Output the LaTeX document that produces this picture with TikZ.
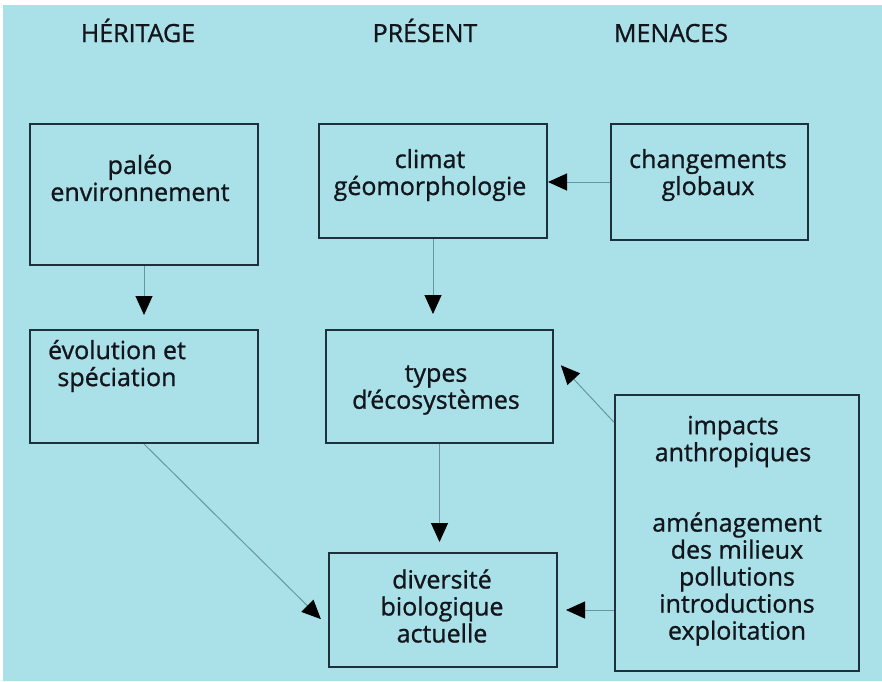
\documentclass[tikz,border=0pt]{standalone}
\usepackage{fontspec}
\setmainfont{Open Sans}[FakeBold=1]
\usetikzlibrary{arrows.meta}
\definecolor{fond}{RGB}{170,225,232}
\definecolor{trait}{RGB}{28,48,62}
\definecolor{fleche}{RGB}{105,150,158}
\definecolor{encre}{RGB}{18,22,28}
\begin{document}
\begin{tikzpicture}[x=0.5pt,y=-0.5pt,
    boite/.style={draw=trait,line width=1pt,rectangle,inner sep=0pt},
    texte/.style={align=center,text=encre,inner sep=0pt,font=\fontsize{12.5}{13.5}\selectfont},
    titre/.style={texte,anchor=base},
    fl/.style={draw=fleche,line width=0.5pt,-{Triangle[length=9.5pt,width=8.5pt,color=black]}}]
        \useasboundingbox (0,0) rectangle (882,681);
        \fill[fond] (3,5) rectangle (882,681);
        \node[titre] at (138,42) (heritage) {HÉRITAGE};
        \node[titre] at (425,42) (present) {PRÉSENT};
        \node[titre] at (671,42) (menaces) {MENACES};
        \node[boite,minimum width=114pt,minimum height=70.5pt] at (144,194.5) (paleo) {};
        \node[boite,minimum width=114pt,minimum height=57pt] at (433,181) (climat) {};
        \node[boite,minimum width=98.5pt,minimum height=58pt] at (709.5,182) (chang) {};
        \node[boite,minimum width=114pt,minimum height=56.5pt] at (144,386.5) (evol) {};
        \node[boite,minimum width=113.5pt,minimum height=56.5pt] at (439.5,386.5) (types) {};
        \node[boite,minimum width=114pt,minimum height=57pt] at (443,610) (divers) {};
        \node[boite,minimum width=122pt,minimum height=138pt] at (737,533) (impacts) {};
        \node[texte] at (140,178) (paleo-t) {paléo\\environnement};
        \node[texte] at (430,175) (climat-t) {climat\\géomorphologie};
        \node[texte] at (708,175) (chang-t) {changements\\globaux};
        \node[texte] at (117,366) (evol-t) {évolution et\\spéciation};
        \node[texte] at (436,390) (types-t) {types\\d’écosystèmes};
        \node[texte] at (442,606) (divers-t) {diversité\\biologique\\actuelle};
        \node[texte] at (733,441.5) (impacts-t) {impacts\\anthropiques};
        \node[texte] at (737,579) (liste-t) {aménagement\\des milieux\\pollutions\\introductions\\exploitation};
        \draw[fl,shorten >=7pt] (paleo.south) -- (evol.north);
        \draw[fl,shorten >=7.5pt] (climat.south) -- (climat.south |- types.north);
        \draw[fl] (chang.west) -- (chang.west -| climat.east);
        \draw[fl,shorten >=5pt] (types.south) -- (types.south |- divers.north);
        \draw[fl,shorten >=5pt] (evol.south) -- (divers.188);
        \draw[fl,shorten >=5pt] (impacts.138) -- (types.14);
        \draw[fl,shorten >=4pt] (impacts.west |- divers.east) -- (divers.east);
      \end{tikzpicture}
\end{document}
